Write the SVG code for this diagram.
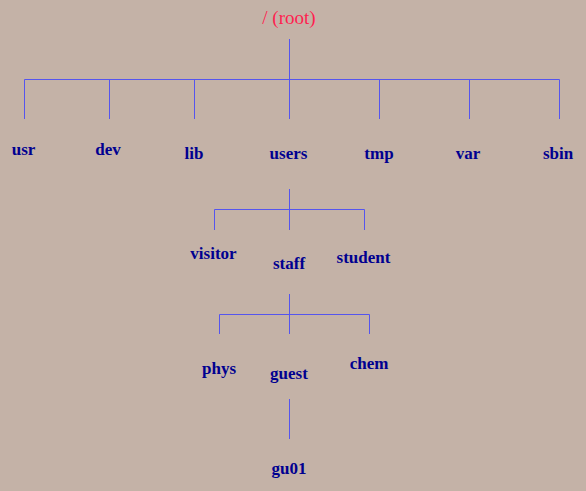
<svg xmlns="http://www.w3.org/2000/svg" width="586" height="491" viewBox="0 0 586 491">
<style>
.n{font-family:"Liberation Serif","Times New Roman",serif;font-size:17px;font-weight:bold;fill:#000090;text-anchor:middle}
.r{font-family:"Liberation Serif","Times New Roman",serif;font-size:19px;fill:#ff1f4f;text-anchor:middle}
.c{stroke:#5555ee;stroke-width:1;fill:none}
</style>
<rect width="586" height="491" fill="#c4b2a7"/>
<g id="connectors" class="c">
<path d="M289.5 39V79.5M24.5 79.5H559.5M24.5 79.5V119M109.5 79.5V119M194.5 79.5V119M289.5 79.5V119M379.5 79.5V119M469.5 79.5V119M559.5 79.5V119"/>
<path d="M289.5 189V230M214.5 209.5H364.5M214.5 209.5V230M364.5 209.5V230"/>
<path d="M289.5 294V334M219.5 314.5H369.5M219.5 314.5V334M369.5 314.5V334"/>
<path d="M289.5 399V439"/>
</g>
<g id="root"><text class="r" x="289" y="24">/ (root)</text></g>
<g id="usr"><text class="n" x="23.5" y="155">usr</text></g>
<g id="dev"><text class="n" x="108" y="155">dev</text></g>
<g id="lib"><text class="n" x="194" y="159">lib</text></g>
<g id="users"><text class="n" x="288.5" y="159">users</text></g>
<g id="tmp"><text class="n" x="379" y="159">tmp</text></g>
<g id="var"><text class="n" x="468" y="159">var</text></g>
<g id="sbin"><text class="n" x="558" y="159">sbin</text></g>
<g id="visitor"><text class="n" x="213.5" y="259">visitor</text></g>
<g id="staff"><text class="n" x="289" y="269">staff</text></g>
<g id="student"><text class="n" x="363.5" y="263">student</text></g>
<g id="phys"><text class="n" x="219" y="374">phys</text></g>
<g id="guest"><text class="n" x="289" y="379">guest</text></g>
<g id="chem"><text class="n" x="369" y="369">chem</text></g>
<g id="gu01"><text class="n" x="289" y="474">gu01</text></g>
</svg>
